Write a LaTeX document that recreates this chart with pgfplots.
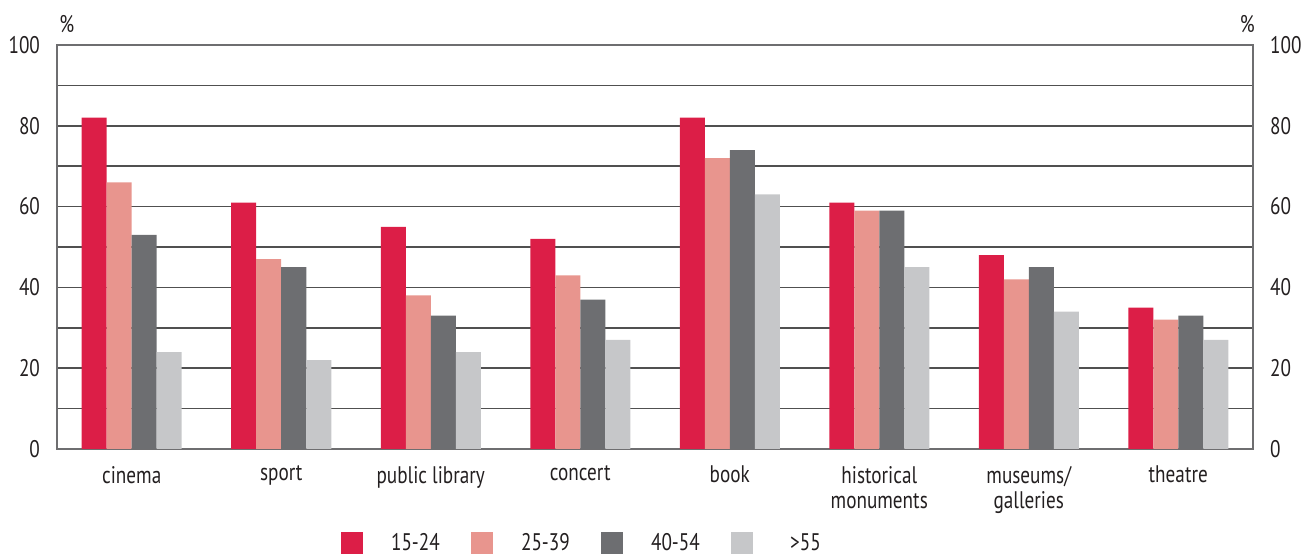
\documentclass[border=0pt]{standalone}
\usepackage{fontspec}
\setmainfont[FakeStretch=0.8]{PT Sans}
\usepackage{pgfplots}
\usepackage{pgfplotstable}
\pgfplotsset{compat=1.18}

\definecolor{cRed}{RGB}{220,30,71}
\definecolor{cPink}{RGB}{232,149,142}
\definecolor{cDark}{RGB}{109,110,113}
\definecolor{cLight}{RGB}{198,199,201}
\definecolor{cGrid}{RGB}{80,80,80}
\definecolor{cAxis}{RGB}{110,110,112}
\definecolor{cText}{RGB}{35,31,32}

% share of people who did the activity, by age group (%)
\pgfplotstableread{
x  a  b  c  d
0  82 66 53 24
1  61 47 45 22
2  55 38 33 24
3  52 43 37 27
4  82 72 74 63
5  61 59 59 45
6  48 42 45 34
7  35 32 33 27
}\culture

\newcommand{\legtext}[1]{\hspace*{5pt}\makebox[38pt][c]{#1}}

\begin{document}
\begin{tikzpicture}[font=\fontsize{12pt}{13pt}\selectfont, text=cText]
\begin{axis}[
  at={(0,0)}, anchor=south west,
  scale only axis, width=598pt, height=202pt,
  ybar=0pt, bar width=12.5pt,
  xmin=-0.5, xmax=7.5, ymin=0, ymax=100,
  xtick={0,...,7},
  xticklabels={cinema, sport, public library, concert, book,
    {historical\\monuments}, {museums/\\galleries}, theatre},
  xticklabel style={align=center, anchor=north, yshift=-5pt,
    font=\fontsize{12pt}{12.5pt}\selectfont},
  ytick={0,20,...,100}, minor ytick={10,30,...,90},
  major tick length=0pt, minor tick length=0pt,
  ymajorgrids, yminorgrids,
  major grid style={cGrid, line width=0.8pt},
  minor grid style={cGrid, line width=0.8pt},
  axis line style={cAxis, line width=0.8pt},
  yticklabel style={xshift=-5pt},
  /pgf/number format/assume math mode=true,
  legend columns=4,
  legend style={draw=none, fill=none, at={(rel axis cs:0.2375,0)},
    anchor=north west, yshift=-40pt, inner sep=0pt,
    /tikz/every even column/.append style={column sep=7pt}},
  legend image code/.code={\fill[#1] (0pt,-5.5pt) rectangle (11pt,5.5pt);},
  clip=false,
]
\addplot[fill=cRed, draw=none] table[x=x, y=a] {\culture};
\addplot[fill=cPink, draw=none] table[x=x, y=b] {\culture};
\addplot[fill=cDark, draw=none] table[x=x, y=c] {\culture};
\addplot[fill=cLight, draw=none] table[x=x, y=d] {\culture};
\legend{\legtext{15-24}, \legtext{25-39}, \legtext{40-54}, \legtext{>55}}
\node[anchor=south west, inner sep=0pt] at (rel axis cs:0,1) [yshift=6pt, xshift=1pt] {\%};
\node[anchor=south east, inner sep=0pt] at (rel axis cs:1,1) [yshift=6pt, xshift=1pt] {\%};
\end{axis}
\begin{axis}[
  at={(0,0)}, anchor=south west,
  scale only axis, width=598pt, height=202pt,
  xmin=-0.5, xmax=7.5, ymin=0, ymax=100,
  axis x line=none, axis y line*=right,
  ytick={0,20,...,100},
  major tick length=0pt,
  axis line style={cAxis, line width=0.8pt},
  yticklabel style={xshift=5pt},
  /pgf/number format/assume math mode=true,
]
\end{axis}
\pgfresetboundingbox
\path[use as bounding box] (-28.5pt,-53.5pt) rectangle (628pt,224.5pt);
\end{tikzpicture}
\end{document}
